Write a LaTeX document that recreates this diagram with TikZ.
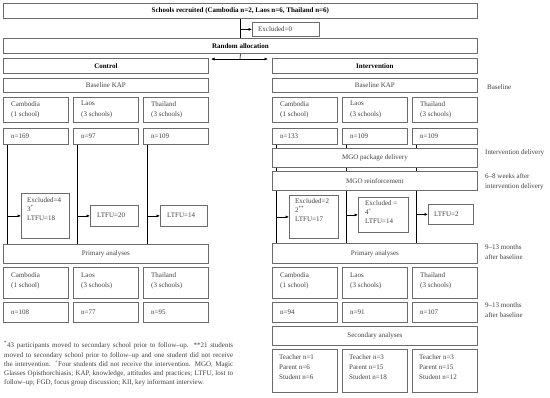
\documentclass[tikz,border=0pt]{standalone}
\usepackage{fontspec}
\setmainfont{Liberation Serif}
\usetikzlibrary{arrows.meta}
\newcommand\myfs{\fontsize{7}{9.5}\selectfont}
\definecolor{bordc}{gray}{0.42}
\definecolor{txtc}{gray}{0.25}
% box with left text, vertically centred: name x y w h inset text
\newcommand\BoxL[7]{%
  \node[box, minimum width=#4, minimum height=#5] (#1) at (#2,#3) {};
  \node[tl, anchor=west] (#1-t) at (#2+#6,#3+#5/2) {#7};}
% box with top-left text: name x y w h inset dy baselineskip text
\newcommand\BoxT[9]{%
  \node[box, minimum width=#4, minimum height=#5] (#1) at (#2,#3) {};
  \node[tl, font={\fontsize{7}{#8}\selectfont}] (#1-t) at (#2+#6,#3+#7) {#9};}
\begin{document}
\begin{tikzpicture}[x=1pt,y=-1pt,
  box/.style={draw=bordc, line width=0.8pt, anchor=north west, inner sep=0pt, font=\myfs, text=txtc},
  hbox/.style={box, font=\myfs\bfseries, text=black},
  tl/.style={anchor=north west, inner sep=0pt, align=left, font=\myfs, text=txtc},
  side/.style={anchor=west, inner sep=0pt, align=left, font={\fontsize{7}{10}\selectfont}, text=txtc},
  ln/.style={draw=black, line width=0.6pt},
  arr/.style={ln, -{Latex[length=3.5pt,width=3pt]}}]
\useasboundingbox (0,0) rectangle (550,398);

% --- top
\node[hbox, minimum width=474, minimum height=15] (rec) at (3,3) {Schools recruited (Cambodia n=2, Laos n=6, Thailand n=6)};
\BoxL{exc0}{252}{22}{67}{14}{6}{Excluded=0}
\node[hbox, minimum width=474, minimum height=15] (ra) at (3,38) {Random allocation};
\node[hbox, minimum width=205, minimum height=15] (ctl) at (3,58) {Control};
\node[hbox, minimum width=205, minimum height=15] (itv) at (272,58) {Intervention};
\node[box, minimum width=205, minimum height=14] (ckap) at (3,78) {Baseline KAP};
\node[box, minimum width=205, minimum height=14] (ikap) at (272,78) {Baseline KAP};

% --- country rows 1
\BoxT{cc1}{3}{97}{65}{25}{8}{4}{10.5}{Cambodia\\(1 school)}
\BoxT{cc2}{73}{97}{65}{25}{8}{4}{10.5}{Laos\\(3 schools)}
\BoxT{cc3}{143}{97}{65}{25}{8}{4}{10.5}{Thailand\\(3 schools)}
\BoxT{ic1}{272}{97}{65}{25}{8}{4}{10.5}{Cambodia\\(1 school)}
\BoxT{ic2}{342}{97}{65}{25}{8}{4}{10.5}{Laos\\(3 schools)}
\BoxT{ic3}{412}{97}{65}{25}{8}{4}{10.5}{Thailand\\(3 schools)}

% --- n rows 1
\BoxL{cn1}{3}{128}{65}{16}{8}{n=169}
\BoxL{cn2}{73}{128}{65}{16}{8}{n=97}
\BoxL{cn3}{143}{128}{65}{16}{8}{n=109}
\BoxL{in1}{272}{128}{65}{16}{8}{n=133}
\BoxL{in2}{342}{128}{65}{16}{8}{n=109}
\BoxL{in3}{412}{128}{65}{16}{8}{n=109}

% --- MGO
\node[box, minimum width=205, minimum height=19] (mgo) at (272,148) {MGO package delivery};
\node[box, minimum width=205, minimum height=19] (mgr) at (272,171) {MGO reinforcement};

% --- exclusions
\BoxT{cx1}{21}{193}{48}{45}{6}{4.5}{9}{Excluded=4\\3\textsuperscript{*}\\LTFU=18}
\BoxL{cx2}{90}{205}{48}{21}{7}{LTFU=20}
\BoxL{cx3}{160}{205}{47}{21}{7}{LTFU=14}
\BoxT{ix1}{289}{195}{49}{43}{6}{3.5}{9}{Excluded=2\\2\textsuperscript{**}\\LTFU=17}
\BoxT{ix2}{358}{197}{50}{35}{7}{3.5}{9}{Excluded =\\4\textsuperscript{+}\\LTFU=14}
\BoxL{ix3}{428}{204}{45}{20}{6}{LTFU=2}

% --- primary
\node[box, minimum width=205, minimum height=19] (cpa) at (3,244) {Primary analyses};
\node[box, minimum width=205, minimum height=20] (ipa) at (272,243) {Primary analyses};

% --- country rows 2
\BoxT{cd1}{3}{267}{65}{31}{8}{5.5}{10}{Cambodia\\(1 school)}
\BoxT{cd2}{73}{267}{65}{31}{8}{5.5}{10}{Laos\\(3 schools)}
\BoxT{cd3}{143}{267}{65}{31}{8}{5.5}{10}{Thailand\\(3 schools)}
\BoxT{id1}{272}{267}{65}{31}{8}{5.5}{10}{Cambodia\\(1 school)}
\BoxT{id2}{342}{267}{65}{31}{8}{5.5}{10}{Laos\\(3 schools)}
\BoxT{id3}{412}{267}{65}{31}{8}{5.5}{10}{Thailand\\(3 schools)}

% --- n rows 2
\BoxL{cm1}{3}{302}{65}{20}{8}{n=108}
\BoxL{cm2}{73}{302}{65}{20}{8}{n=77}
\BoxL{cm3}{143}{302}{65}{20}{8}{n=95}
\BoxL{im1}{272}{302}{65}{20}{8}{n=94}
\BoxL{im2}{342}{302}{65}{20}{8}{n=91}
\BoxL{im3}{412}{302}{65}{20}{8}{n=107}

% --- secondary
\node[box, minimum width=205, minimum height=19] (sec) at (272,326) {Secondary analyses};
\BoxT{iv1}{272}{349}{65}{43}{7}{5.5}{10}{Teacher n=1\\Parent n=6\\Student n=6}
\BoxT{iv2}{342}{349}{65}{43}{7}{5.5}{10}{Teacher n=3\\Parent n=15\\Student n=18}
\BoxT{iv3}{412}{349}{65}{43}{7}{5.5}{10}{Teacher n=3\\Parent n=15\\Student n=12}

% --- side labels
\node[side] (sl1) at (487,87) {Baseline};
\node[side] (sl2) at (485,153) {Intervention delivery};
\node[side] (sl3) at (485,182) {6–8 weeks after\\intervention delivery};
\node[side] (sl4) at (485,252) {9–13 months\\after baseline};
\node[side] (sl5) at (485,310.5) {9–13 months\\after baseline};

% --- footnote
\node[anchor=north west, inner sep=0pt, text width=229pt, align=justify,
      font={\fontsize{7}{9.2}\selectfont}, text=txtc] (fn) at (4,341.5)
{\textsuperscript{*}43 participants moved to secondary school prior to follow–up. **21 students\linebreak
moved to secondary school prior to follow–up and one student did not receive\linebreak
the intervention. \textsuperscript{+}Four students did not receive the intervention. MGO, Magic\linebreak
Glasses Opisthorchiasis; KAP, knowledge, attitudes and practices; LTFU, lost to\linebreak
follow–up; FGD, focus group discussion; KII, key informant interview.};

% --- connectors top
\draw[ln] (rec.south) -- (ra.north);
\draw[arr] (rec.south |- exc0.west) -- (exc0.west);
\coordinate (split) at (240,59);
\coordinate (ltip) at (211,59);
\coordinate (rtip) at (268,59);
\draw[ln] (ra.south) -- (split);
\draw[arr] (split) -- (ltip);
\draw[arr] (split) -- (rtip);

% --- control lines
\foreach \n/\x in {cn1/cx1, cn2/cx2, cn3/cx3}{
  \coordinate (L-\n) at ([xshift=4pt]\n.south west);
  \draw[ln] (L-\n) -- (L-\n |- cpa.north);
  \draw[arr] (L-\n |- \x.west) -- (\x.west);
}
% --- intervention lines
\foreach \n/\x in {in1/ix1, in2/ix2, in3/ix3}{
  \coordinate (L-\n) at ([xshift=4pt]\n.south west);
  \draw[ln] (L-\n) -- (L-\n |- mgo.north);
  \draw[ln] (L-\n |- mgo.south) -- (L-\n |- mgr.north);
  \draw[ln] (L-\n |- mgr.south) -- (L-\n |- ipa.north);
  \draw[arr] (L-\n |- \x.west) -- (\x.west);
}
\end{tikzpicture}
\end{document}
